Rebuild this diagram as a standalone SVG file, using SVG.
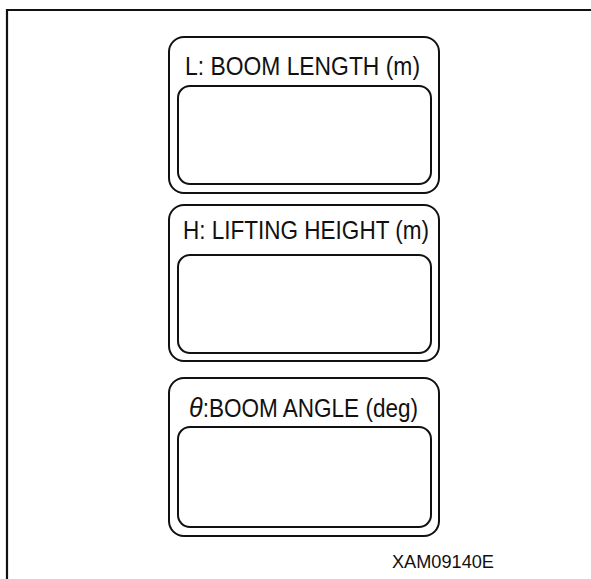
<svg xmlns="http://www.w3.org/2000/svg" width="591" height="579" viewBox="0 0 591 579">
<style>
.frame{fill:none;stroke:#111;stroke-width:2.2}
.outer{fill:#fff;stroke:#111;stroke-width:2}
.inner{fill:#fff;stroke:#111;stroke-width:2}
.title{font-family:"Liberation Sans",Arial,sans-serif;font-size:25px;fill:#111}
.code{font-family:"Liberation Sans",Arial,sans-serif;font-size:18px;fill:#111}
</style>
<rect width="591" height="579" fill="#fff"/>
<path class="frame" d="M7,579 V10 H591"/>
<g id="boom-length">
<rect class="outer" x="169" y="37" width="270" height="156" rx="15"/>
<rect class="inner" x="178" y="86" width="253" height="98" rx="12"/>
<text class="title" x="185" y="75" textLength="235" lengthAdjust="spacingAndGlyphs">L: BOOM LENGTH (m)</text>
</g>
<g id="lifting-height">
<rect class="outer" x="169" y="205" width="270" height="156" rx="15"/>
<rect class="inner" x="178" y="255" width="253" height="98" rx="12"/>
<text class="title" x="183" y="239" textLength="246" lengthAdjust="spacingAndGlyphs">H: LIFTING HEIGHT (m)</text>
</g>
<g id="boom-angle">
<rect class="outer" x="169" y="378" width="270" height="158" rx="15"/>
<rect class="inner" x="178" y="427" width="253" height="100" rx="12"/>
<text class="title" x="189" y="417" textLength="229" lengthAdjust="spacingAndGlyphs"><tspan font-style="italic" font-size="28">θ</tspan>:BOOM ANGLE (deg)</text>
</g>
<g id="connectors"></g>
<text class="code" x="392" y="568" textLength="102" lengthAdjust="spacingAndGlyphs">XAM09140E</text>
</svg>
